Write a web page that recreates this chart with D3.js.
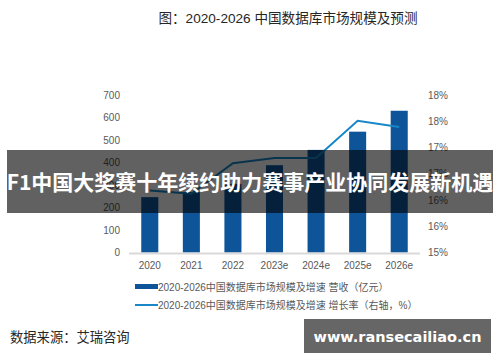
<!DOCTYPE html>
<html>
<head>
<meta charset="utf-8">
<script src="https://cdn.jsdelivr.net/npm/d3@7"></script>
<style>
  html, body { margin: 0; padding: 0; background: #fff; }
  svg { display: block; font-family: "Liberation Sans", "Noto Sans CJK SC", sans-serif; }
</style>
</head>
<body>
<svg id="chart" width="500" height="362"></svg>
<script>
const years = ["2020", "2021", "2022", "2023e", "2024e", "2025e", "2026e"];
const revenue = [246, 268, 305, 388, 456, 537, 630];
const growth = [16.18, 16.12, 16.7, 16.8, 16.8, 17.51, 17.39];
const leftTicks = [0, 100, 200, 300, 400, 500, 600, 700];
const rightTicks = [15, 15.5, 16, 16.5, 17, 17.5, 18];
const legendLabels = [
  "2020-2026中国数据库市场规模及增速 营收（亿元）",
  "2020-2026中国数据库市场规模及增速 增长率（右轴，%）"
];

const svg = d3.select("#chart");
const barColor = "#0d5499";
const lineColor = "#1787c8";
const textColor = "#595959";

const x = d3.scaleBand().domain(years).range([129, 420]).paddingInner(0.59).paddingOuter(0.295);
const yL = d3.scaleLinear().domain([0, 700]).range([252.5, 95]);
const yR = d3.scaleLinear().domain([15, 18]).range([252.5, 95]);

// title
svg.append("text")
  .attr("x", 288).attr("y", 23)
  .attr("text-anchor", "middle")
  .attr("font-size", 13.6)
  .attr("fill", "#262626")
  .text("图：2020-2026 中国数据库市场规模及预测");

// left axis labels
svg.append("g").selectAll("text").data(leftTicks).join("text")
  .attr("x", 120).attr("y", (d) => yL(d) + 3.5)
  .attr("text-anchor", "end")
  .attr("font-size", 10)
  .attr("fill", textColor)
  .text((d) => d);

// right axis labels
svg.append("g").selectAll("text").data(rightTicks).join("text")
  .attr("x", 428).attr("y", (d) => yR(d) + 3.5)
  .attr("font-size", 10)
  .attr("fill", textColor)
  .text((d) => d3.format(".0f")(d) + "%");

// bars
svg.append("g").selectAll("rect").data(revenue).join("rect")
  .attr("x", (d, i) => x(years[i]))
  .attr("width", x.bandwidth())
  .attr("y", (d) => yL(d))
  .attr("height", (d) => yL(0) - yL(d))
  .attr("fill", barColor);

// baseline
svg.append("line")
  .attr("x1", 129).attr("x2", 420)
  .attr("y1", 253.5).attr("y2", 253.5)
  .attr("stroke", "#d9d9d9").attr("stroke-width", 2);

// category labels
svg.append("g").selectAll("text").data(years).join("text")
  .attr("x", (d) => x(d) + x.bandwidth() / 2)
  .attr("y", 268.5)
  .attr("text-anchor", "middle")
  .attr("font-size", 10)
  .attr("fill", textColor)
  .text((d) => d);

// growth line
const line = d3.line()
  .x((d, i) => x(years[i]) + x.bandwidth() / 2)
  .y((d) => yR(d));
svg.append("path")
  .datum(growth)
  .attr("d", line)
  .attr("fill", "none")
  .attr("stroke", lineColor)
  .attr("stroke-width", 2);

// legend
svg.append("rect")
  .attr("x", 135).attr("y", 284).attr("width", 23).attr("height", 5)
  .attr("fill", barColor);
svg.append("line")
  .attr("x1", 135).attr("x2", 158).attr("y1", 305).attr("y2", 305)
  .attr("stroke", lineColor).attr("stroke-width", 2);
svg.append("g").selectAll("text").data(legendLabels).join("text")
  .attr("x", 158)
  .attr("y", (d, i) => 290.5 + i * 18)
  .attr("font-size", 10)
  .attr("fill", textColor)
  .text((d) => d);

// source
svg.append("text")
  .attr("x", 10).attr("y", 342)
  .attr("font-size", 13.3)
  .attr("fill", "#262626")
  .text("数据来源：艾瑞咨询");

// overlay banner
svg.append("rect")
  .attr("x", 7).attr("y", 150).attr("width", 486).attr("height", 63)
  .attr("fill", "#000").attr("opacity", 0.62);
svg.append("text")
  .attr("x", 250).attr("y", 189.5)
  .attr("text-anchor", "middle")
  .attr("font-size", 21)
  .attr("font-weight", "bold")
  .attr("fill", "#fff")
  .attr("font-family", "'Noto Sans CJK SC', sans-serif")
  .text("F1中国大奖赛十年续约助力赛事产业协同发展新机遇");

// watermark
svg.append("rect")
  .attr("x", 304).attr("y", 319).attr("width", 187).attr("height", 34)
  .attr("fill", "#666");
svg.append("text")
  .attr("x", 397.5).attr("y", 341.5)
  .attr("text-anchor", "middle")
  .attr("font-size", 14.5)
  .attr("font-weight", "bold")
  .attr("fill", "#fff")
  .attr("font-family", "'DejaVu Sans', sans-serif")
  .text("www.ransecailiao.cn");
</script>
</body>
</html>
